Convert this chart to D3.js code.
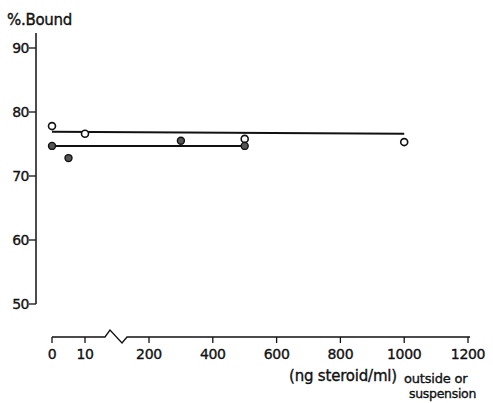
<!DOCTYPE html>
<html><head><meta charset="utf-8">
<script src="https://cdn.jsdelivr.net/npm/d3@7/dist/d3.min.js"></script>
<style>body{margin:0;background:#fff}svg{display:block}text{font-family:"DejaVu Sans",sans-serif;fill:#111;stroke:#111;stroke-width:0.35}</style>
</head><body><svg id="c" width="493" height="403"></svg>
<script>
// Data
const openX = [0, 10, 500, 1000];
const openY = [77.8, 76.6, 75.8, 75.3];
const filledX = [0, 5, 300, 500];
const filledY = [74.7, 72.8, 75.5, 74.7];
const upperLineX = [0, 1000];
const upperLineY = [76.9, 76.6];
const lowerLineX = [0, 500];
const lowerLineY = [74.7, 74.7];
const yTicks = [50, 60, 70, 80, 90];
const xTicks = [0, 10, 200, 400, 600, 800, 1000, 1200];

const svg = d3.select("#c");
const x = d3.scaleLinear().domain([0, 10, 200, 1200]).range([52, 85, 149, 468]);
const y = d3.scaleLinear().domain([50, 90]).range([304, 48]);
const axX = 36, axY = 337;
const ink = "#111";

// Y axis
svg.append("line").attr("x1", axX).attr("x2", axX).attr("y1", 33).attr("y2", y(50))
  .attr("stroke", ink).attr("stroke-width", 1.5);
const yg = svg.append("g");
yTicks.forEach(t => {
  yg.append("line").attr("x1", axX - 7).attr("x2", axX).attr("y1", y(t)).attr("y2", y(t))
    .attr("stroke", ink).attr("stroke-width", 1.3);
  yg.append("text").attr("x", axX - 7).attr("y", y(t) + 5).attr("text-anchor", "end")
    .attr("font-size", 14).attr("letter-spacing", -0.5).text(t);
});
svg.append("text").attr("x", 7).attr("y", 25).attr("font-size", 15).attr("letter-spacing", -0.3).text("%.Bound");

// X axis with break
const brk = [[105, axY], [110, 330], [122, 343], [127, axY]];
const xPath = d3.path();
xPath.moveTo(x(0), axY); xPath.lineTo(brk[0][0], brk[0][1]);
brk.slice(1).forEach(p => xPath.lineTo(p[0], p[1]));
xPath.lineTo(x(1200) + 2, axY);
svg.append("path").attr("d", xPath.toString()).attr("fill", "none")
  .attr("stroke", ink).attr("stroke-width", 1.3);
xTicks.forEach(t => {
  svg.append("line").attr("x1", x(t)).attr("x2", x(t)).attr("y1", axY).attr("y2", axY + 6)
    .attr("stroke", ink).attr("stroke-width", 1.3);
  svg.append("text").attr("x", x(t)).attr("y", 359).attr("text-anchor", "middle")
    .attr("font-size", 14).attr("letter-spacing", -0.3).text(t);
});
svg.append("text").attr("x", 289).attr("y", 381).attr("font-size", 15).attr("letter-spacing", -0.2).text("(ng steroid/ml)");
svg.append("text").attr("x", 404).attr("y", 383).attr("font-size", 13).attr("letter-spacing", -0.2).text("outside or");
svg.append("text").attr("x", 409).attr("y", 398).attr("font-size", 12.5).attr("letter-spacing", -0.3).text("suspension");

// Lines
const line = d3.line().x(d => x(d[0])).y(d => y(d[1]));
svg.append("path").attr("d", line(upperLineX.map((v, i) => [v, upperLineY[i]])))
  .attr("stroke", ink).attr("stroke-width", 2).attr("fill", "none");
svg.append("path").attr("d", line(lowerLineX.map((v, i) => [v, lowerLineY[i]])))
  .attr("stroke", ink).attr("stroke-width", 2).attr("fill", "none");

// Points
openX.forEach((v, i) => {
  svg.append("circle").attr("cx", x(v)).attr("cy", y(openY[i])).attr("r", 3.5)
    .attr("fill", "#fff").attr("stroke", ink).attr("stroke-width", 1.6);
});
filledX.forEach((v, i) => {
  svg.append("circle").attr("cx", x(v)).attr("cy", y(filledY[i])).attr("r", 3.5)
    .attr("fill", "#555").attr("stroke", ink).attr("stroke-width", 1.4);
});
</script></body></html>
